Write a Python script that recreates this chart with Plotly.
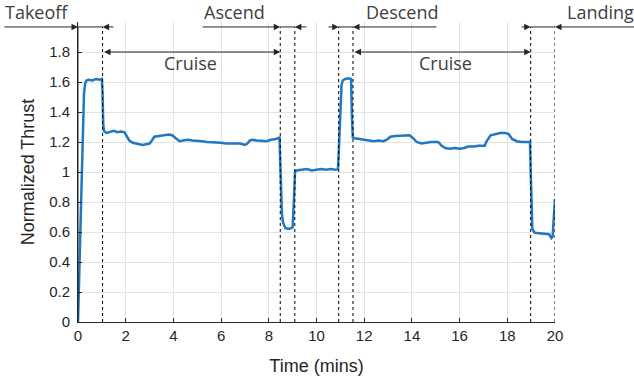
import plotly.graph_objects as go

# Data
time_min = [0, 0.05, 0.1, 0.15, 0.2, 0.25, 0.3, 0.35, 0.45, 0.6, 0.75, 0.9, 1.0, 1.03, 1.06, 1.1,
            1.2, 1.35, 1.5, 1.65, 1.8, 1.95, 2.05, 2.15, 2.3, 2.5, 2.7, 2.85, 3.0, 3.1, 3.2, 3.4,
            3.6, 3.8, 3.95, 4.1, 4.25, 4.4, 4.6, 4.8, 5.0, 5.2, 5.4, 5.6, 5.8, 6.0, 6.2, 6.4, 6.6,
            6.8, 7.0, 7.1, 7.2, 7.3, 7.5, 7.7, 7.9, 8.1, 8.3, 8.45, 8.5, 8.55, 8.6, 8.7, 8.85, 9.0,
            9.05, 9.1, 9.15, 9.4, 9.6, 9.8, 10.0, 10.2, 10.4, 10.6, 10.8, 10.9, 10.95, 11.0, 11.05,
            11.1, 11.2, 11.35, 11.45, 11.48, 11.52, 11.6, 11.8, 12.0, 12.2, 12.4, 12.6, 12.8, 12.95,
            13.1, 13.3, 13.5, 13.7, 13.9, 14.05, 14.2, 14.4, 14.6, 14.8, 15.1, 15.25, 15.4, 15.6,
            15.8, 16.0, 16.2, 16.35, 16.6, 16.8, 17.05, 17.15, 17.3, 17.5, 17.7, 17.9, 18.05, 18.2,
            18.4, 18.6, 18.8, 18.95, 19.0, 19.05, 19.15, 19.35, 19.55, 19.75, 19.85, 19.9, 19.95, 20.0]
thrust = [0, 0.33, 0.68, 1.02, 1.36, 1.52, 1.59, 1.61, 1.615, 1.61, 1.62, 1.615, 1.62, 1.52, 1.31, 1.27,
          1.26, 1.265, 1.275, 1.265, 1.27, 1.265, 1.24, 1.21, 1.195, 1.185, 1.18, 1.185, 1.19, 1.21, 1.235, 1.24,
          1.245, 1.25, 1.245, 1.225, 1.205, 1.21, 1.215, 1.21, 1.21, 1.205, 1.2, 1.2, 1.195, 1.195, 1.19, 1.19, 1.185,
          1.19, 1.18, 1.19, 1.21, 1.215, 1.21, 1.21, 1.205, 1.215, 1.22, 1.23, 1.0, 0.72, 0.66, 0.625, 0.62, 0.63,
          0.8, 1.0, 1.01, 1.015, 1.02, 1.01, 1.015, 1.02, 1.015, 1.02, 1.015, 1.02, 1.2, 1.45, 1.58,
          1.61, 1.62, 1.625, 1.62, 1.4, 1.23, 1.225, 1.22, 1.215, 1.21, 1.205, 1.21, 1.205, 1.215,
          1.235, 1.24, 1.24, 1.245, 1.245, 1.225, 1.2, 1.19, 1.195, 1.2, 1.2, 1.175, 1.16, 1.155,
          1.16, 1.155, 1.16, 1.17, 1.17, 1.175, 1.175, 1.21, 1.245, 1.255, 1.26, 1.26, 1.255, 1.22,
          1.205, 1.2, 1.2, 1.2, 0.9, 0.62, 0.595, 0.59, 0.585, 0.585, 0.56, 0.57, 0.7, 0.82]

phase_bounds = [1.03, 8.48, 9.09, 10.93, 11.53, 18.98, 20.0]
phase_names = ["Takeoff", "Ascend", "Descend", "Landing"]
phase_label_x = [-1.72, 6.58, 13.6, 21.9]
x_ticks = [0, 2, 4, 6, 8, 10, 12, 14, 16, 18, 20]
y_ticks = [0, 0.2, 0.4, 0.6, 0.8, 1.0, 1.2, 1.4, 1.6, 1.8]
y_tick_text = ["0", "0.2", "0.4", "0.6", "0.8", "1", "1.2", "1.4", "1.6", "1.8"]

DARK = "#262626"
TXT = "#404040"
Y_TOP = 1.967
Y_CRUISE = 1.8
X_MAX, Y_MAX = 20.0, 2.0

fig = go.Figure()
fig.add_trace(go.Scatter(x=time_min, y=thrust, mode="lines",
                         line=dict(color="#1f78c1", width=2.5), showlegend=False))

shapes = []
for xb in phase_bounds:
    shapes.append(dict(type="line", xref="x", yref="y", x0=xb, x1=xb, y0=0, y1=Y_TOP,
                       line=dict(color="black", width=1, dash="dot")))
for a, b in [(0, 1.03), (8.48, 9.09), (10.93, 11.53), (18.98, 20.0)]:
    shapes.append(dict(type="line", xref="x", yref="y", x0=a, x1=b, y0=Y_TOP, y1=Y_TOP,
                       line=dict(color=DARK, width=1)))
shapes.append(dict(type="line", xref="x", yref="y", x0=0, x1=0, y0=0, y1=Y_TOP,
                   line=dict(color=DARK, width=1)))

annotations = []
XD, YD = "x domain", "y domain"

def arrow(head, tail, y, side="end"):
    annotations.append(dict(x=head / X_MAX, y=y / Y_MAX, ax=tail / X_MAX, ay=y / Y_MAX,
                            xref=XD, yref=YD, axref=XD, ayref=YD,
                            text="", showarrow=True, arrowhead=2, arrowsize=1.3, arrowwidth=1,
                            arrowcolor=DARK, standoff=0, startstandoff=0, arrowside=side))

arrow(0, -3.15, Y_TOP)
arrow(1.03, 1.55, Y_TOP)
arrow(8.48, 5.16, Y_TOP)
arrow(9.09, 9.64, Y_TOP)
arrow(10.93, 10.44, Y_TOP)
arrow(11.53, 15.09, Y_TOP)
arrow(18.98, 18.53, Y_TOP)
arrow(20.0, 23.4, Y_TOP)
arrow(8.48, 1.03, Y_CRUISE, "end+start")
arrow(18.98, 11.53, Y_CRUISE, "end+start")

def label(text, x, y):
    annotations.append(dict(x=x / X_MAX, y=y / Y_MAX, xref=XD, yref=YD, text=text,
                            showarrow=False, xanchor="center", yanchor="middle",
                            font=dict(family="Open Sans", size=18, color=TXT)))

for name, lx in zip(phase_names, phase_label_x):
    label(name, lx, 2.067)
label("Cruise", 4.7, 1.727)
label("Cruise", 15.4, 1.727)

fig.update_layout(
    width=634, height=381,
    margin=dict(l=78, r=79, t=22, b=59, autoexpand=False),
    paper_bgcolor="white", plot_bgcolor="white",
    shapes=shapes, annotations=annotations,
    font=dict(family="Liberation Sans, Arial", color=DARK),
    xaxis=dict(range=[0, X_MAX], tickvals=x_ticks, showgrid=True, gridcolor="#e3e3e3",
               showline=True, linecolor=DARK, linewidth=1, ticks="inside", ticklen=4,
               tickcolor=DARK, zeroline=False, tickfont=dict(size=15, color=DARK), automargin=False,
               title=dict(text="Time (mins)", font=dict(size=18, color=DARK), standoff=16)),
    yaxis=dict(range=[0, Y_MAX], tickvals=y_ticks, ticktext=y_tick_text, showgrid=True,
               gridcolor="#e3e3e3", showline=True, linecolor=DARK, linewidth=1,
               ticks="inside", ticklen=4, tickcolor=DARK, zeroline=False, automargin=False,
               tickfont=dict(size=15, color=DARK), ticklabelstandoff=4,
               title=dict(text="Normalized Thrust", font=dict(size=18, color=DARK), standoff=9)),
)

fig.write_html("out.html", config={"displayModeBar": False},
               post_script="document.body.style.margin='0';")
